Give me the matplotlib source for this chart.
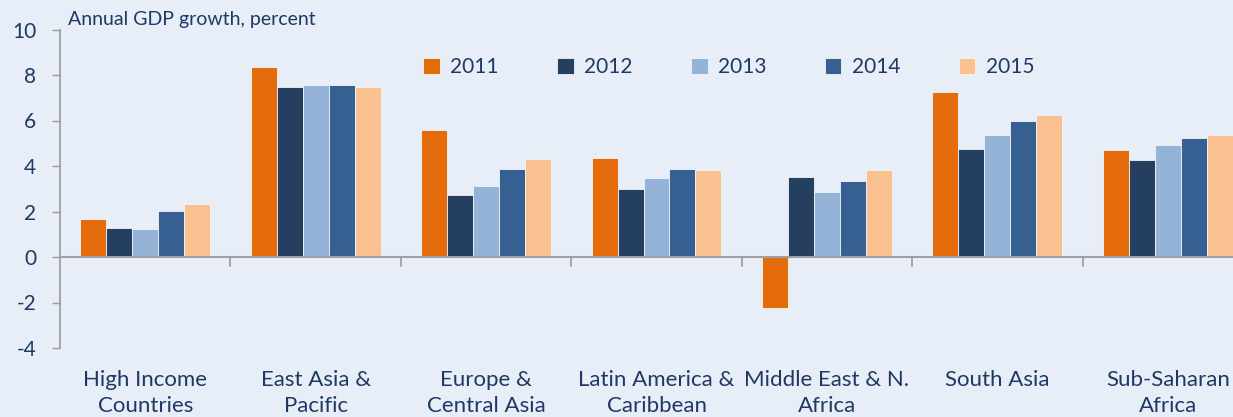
import matplotlib
matplotlib.use("Agg")
import matplotlib.pyplot as plt
import numpy as np

categories = ["High Income\nCountries", "East Asia &\nPacific", "Europe &\nCentral Asia",
              "Latin America &\nCaribbean", "Middle East & N.\nAfrica", "South Asia", "Sub-Saharan\nAfrica"]
years = ["2011", "2012", "2013", "2014", "2015"]
v2011 = [1.65, 8.36, 5.58, 4.35, -2.22, 7.27, 4.69]
v2012 = [1.27, 7.46, 2.71, 2.99, 3.50, 4.76, 4.28]
v2013 = [1.24, 7.58, 3.13, 3.47, 2.84, 5.38, 4.91]
v2014 = [2.04, 7.58, 3.85, 3.85, 3.34, 5.96, 5.22]
v2015 = [2.32, 7.47, 4.31, 3.81, 3.84, 6.23, 5.36]
series = [v2011, v2012, v2013, v2014, v2015]
colors = ["#E46C0A", "#243F60", "#95B3D7", "#376092", "#FAC090"]

bg = "#E8EEF7"
txt = "#1F3864"
plt.rcParams['font.family'] = ['Lato', 'DejaVu Sans']

fig = plt.figure(figsize=(12.33, 4.17), dpi=100, facecolor=bg)
ax = fig.add_axes([60/1233, 1-348/417, (1253-60)/1233, (348-29.5)/417])
ax.set_facecolor(bg)

n = len(categories)
x = np.arange(n)
w = 0.1525
for i, (vals, c, yr) in enumerate(zip(series, colors, years)):
    ax.bar(x + (i - 2) * w, vals, width=w, color=c, edgecolor="#F0F4FA", linewidth=0.6, label=yr, zorder=3)

ax.set_xlim(-0.5, n - 0.5)
ax.set_ylim(-4, 10)
ax.set_yticks([-4, -2, 0, 2, 4, 6, 8, 10])
ax.set_yticklabels(["-4", "-2", "0", "2", "4", "6", "8", "10"])
ax.tick_params(axis='y', direction='out', length=6, width=1, color="#999999",
               labelsize=15, labelcolor=txt, pad=11)
for s in ["top", "right", "bottom"]:
    ax.spines[s].set_visible(False)
ax.spines["left"].set_color("#999999")
ax.spines["left"].set_linewidth(1.2)
ax.axhline(0, color="#A0A0A0", linewidth=1.5, zorder=4)

ax.set_xticks(x)
ax.set_xticklabels([])
ax.tick_params(axis='x', length=0)
for xi, lab in zip(x, categories):
    ax.text(xi, -4.95, lab, ha="center", va="top", fontsize=16, color=txt, linespacing=1.4)
for b in np.arange(0.5, n - 0.5, 1.0):
    ax.plot([b, b], [0, -0.4], color="#999999", linewidth=1.2, clip_on=False, zorder=4)

fig.text(68/1233, 1-20/417, "Annual GDP growth, percent", fontsize=14, color=txt, va="center", ha="left")

leg = ax.legend(loc="center left", bbox_to_anchor=(423/1233, 1-67/417), bbox_transform=fig.transFigure,
                ncol=5, frameon=False, fontsize=15, handlelength=0.8, handleheight=0.8,
                columnspacing=2.8, handletextpad=0.5, borderaxespad=0, borderpad=0)
for t in leg.get_texts():
    t.set_color(txt)

fig.savefig("out.png", dpi=100, facecolor=bg)
